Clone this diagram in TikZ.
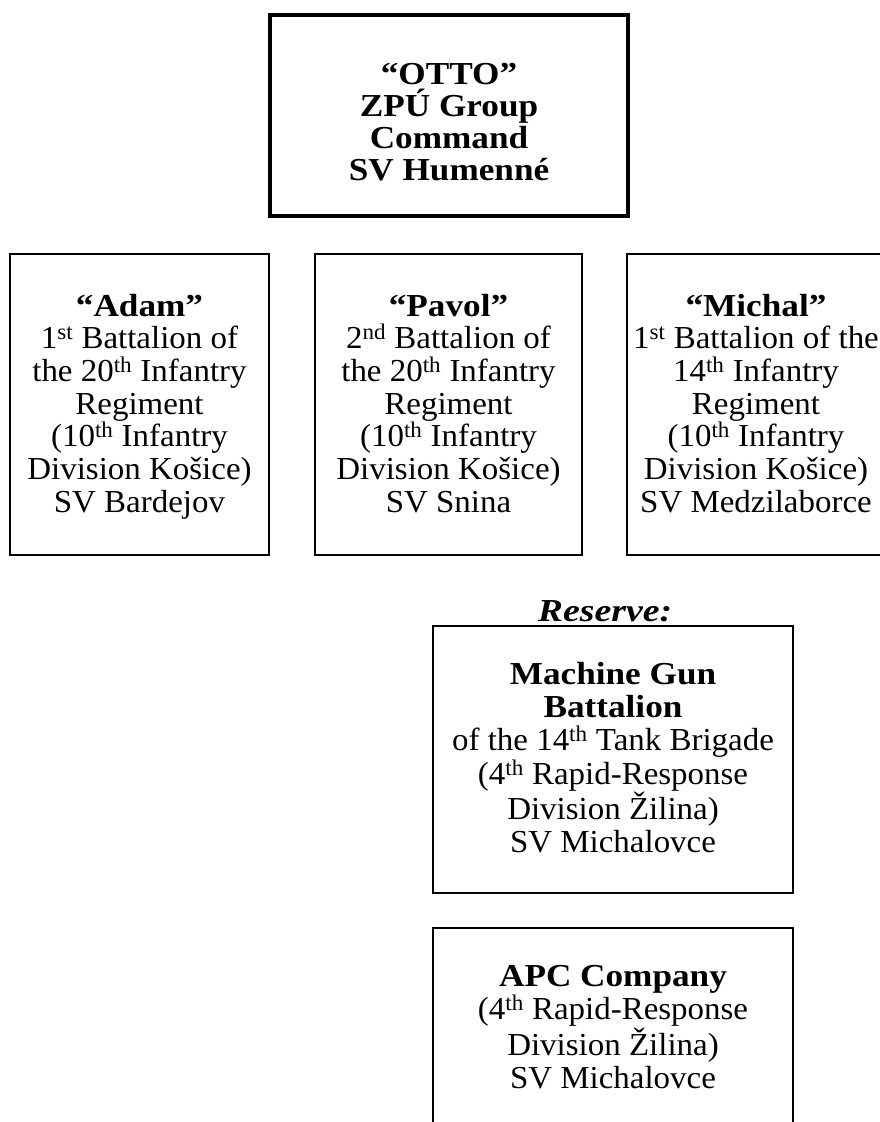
\documentclass[tikz,border=0pt]{standalone}
\usepackage{fontspec}
\setmainfont{Liberation Serif}[FakeStretch=1.03,BoldFeatures={FakeStretch=1.10},BoldItalicFeatures={FakeStretch=1.18}]
\newcommand\tstr{\rule{0pt}{24pt}}
\newcommand\bstr{\rule[-8pt]{0pt}{8pt}}
\begin{document}
\begin{tikzpicture}[x=1pt,y=-1pt,
  box/.style={draw=black, line width=1.7pt, rectangle, inner sep=0pt, outer sep=0pt},
  topframe/.style={box, line width=4pt},
  rowtxt/.style={align=center, inner sep=0pt, font=\fontsize{32}{32.7}\selectfont},
  restxt/.style={align=center, inner sep=0pt, font=\fontsize{32}{33.2}\selectfont},
  toptxt/.style={align=center, inner sep=0pt, font=\fontsize{32}{32}\selectfont\bfseries},
  reslabel/.style={inner sep=0pt, font=\fontsize{32}{33}\selectfont\bfseries\itshape}]
\clip (0,0) rectangle (880,1122);
\fill[white] (0,0) rectangle (880,1122);
% top
\node[topframe, minimum width=358pt, minimum height=201pt] (otto) at (449,115.5) {};
\node[toptxt] (ottotext) at (449,124) {\tstr“OTTO”\\ZPÚ Group\\Command\\SV Humenné\bstr};
% row
\node[box, minimum width=259pt, minimum height=301pt] (adam) at (139.5,404.5) {};
\node[rowtxt] (adamtext) at (139.5,406.1) {\tstr\textbf{“Adam”}\\1\textsuperscript{st} Battalion of\\the 20\textsuperscript{th} Infantry\\Regiment\\(10\textsuperscript{th} Infantry\\Division Košice)\\SV Bardejov\bstr};
\node[box, minimum width=267pt, minimum height=301pt] (pavol) at (448.5,404.5) {};
\node[rowtxt] (pavoltext) at (448.5,406.1) {\tstr\textbf{“Pavol”}\\2\textsuperscript{nd} Battalion of\\the 20\textsuperscript{th} Infantry\\Regiment\\(10\textsuperscript{th} Infantry\\Division Košice)\\SV Snina\bstr};
\node[box, minimum width=270pt, minimum height=301pt] (michal) at (762,404.5) {};
\node[rowtxt] (michaltext) at (756,406.1) {\tstr\textbf{“Michal”}\\1\textsuperscript{st} Battalion of the\\14\textsuperscript{th} Infantry\\Regiment\\(10\textsuperscript{th} Infantry\\Division Košice)\\SV Medzilaborce\bstr};
% reserve
\node[reslabel, anchor=base] (reserve) at (605,621) {Reserve:};
\node[box, minimum width=360pt, minimum height=267pt] (mg) at (613,759.5) {};
\node[restxt] (mgtext) at (613,760.5) {\tstr\textbf{Machine Gun}\\\textbf{Battalion}\\of the 14\textsuperscript{th} Tank Brigade\\(4\textsuperscript{th} Rapid-Response\\Division Žilina)\\SV Michalovce\bstr};
\node[box, minimum width=360pt, minimum height=300pt] (apc) at (613,1078) {};
\node[restxt] (apctext) at (613,1029.5) {\tstr\textbf{APC Company}\\(4\textsuperscript{th} Rapid-Response\\Division Žilina)\\SV Michalovce\bstr};
\end{tikzpicture}
\end{document}
